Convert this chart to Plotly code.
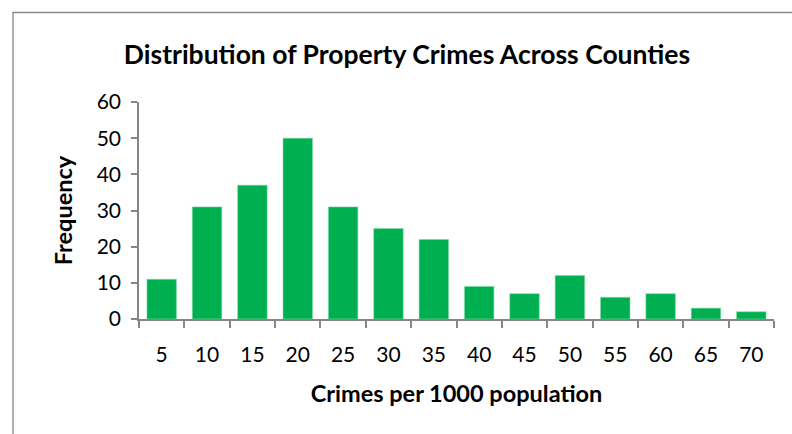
import plotly.graph_objects as go

# Histogram bins (crimes per 1000 population) and county counts
bins = ["5", "10", "15", "20", "25", "30", "35", "40", "45", "50", "55", "60", "65", "70"]
counts = [11, 31, 37, 50, 31, 25, 22, 9, 7, 12, 6, 7, 3, 2]
y_ticks = [0, 10, 20, 30, 40, 50, 60]

W, H = 792, 434
L, R, T, B = 139, 18, 102, 115
FONT = "Lato"
AXIS_GRAY = "#868686"

fig = go.Figure(
    go.Bar(
        x=bins,
        y=counts,
        marker=dict(color="#00B050", line=dict(color="#7fd8a7", width=0.6)),
        hoverinfo="x+y",
    )
)

pw = W - L - R
ph = H - T - B

# Chart-area border (top and left edges visible)
fig.add_shape(
    type="path",
    xref="paper", yref="paper",
    path=(f"M {(13 - L) / pw} {-(H + 5 - T - ph) / ph} "
          f"L {(13 - L) / pw} {(H - B - 12.5) / ph} "
          f"L {(W + 5 - L) / pw} {(H - B - 12.5) / ph}"),
    line=dict(color=AXIS_GRAY, width=1.3),
    layer="above",
)

fig.update_layout(
    width=W, height=H,
    margin=dict(l=L, r=R, t=T, b=B, autoexpand=False),
    paper_bgcolor="white",
    plot_bgcolor="white",
    bargap=0.35,
    showlegend=False,
    title=dict(
        text="<b>Distribution of Property Crimes Across Counties</b>",
        x=407 / W, xref="container", xanchor="center",
        y=1 - 55 / H, yref="container", yanchor="middle",
        font=dict(family=FONT, size=26.5, color="black"),
    ),
    font=dict(family=FONT, color="black"),
)

fig.update_xaxes(
    type="category",
    showline=True, linecolor=AXIS_GRAY, linewidth=1.5,
    ticks="outside", tickson="boundaries", ticklen=7, tickcolor=AXIS_GRAY, tickwidth=1.5,
    tickfont=dict(family=FONT, size=21, color="black"),
    ticklabelstandoff=16,
    showgrid=False, zeroline=False,
    title=dict(text="<b>Crimes per 1000 population</b>",
               font=dict(family=FONT, size=23.5, color="black"), standoff=21),
)

fig.update_yaxes(
    range=[0, 60],
    tickvals=y_ticks,
    showline=True, linecolor=AXIS_GRAY, linewidth=1.5,
    ticks="outside", ticklen=6, tickcolor=AXIS_GRAY, tickwidth=1.5,
    tickfont=dict(family=FONT, size=21, color="black"),
    ticklabelstandoff=6,
    showgrid=False, zeroline=False,
    title=dict(text="<b>Frequency</b>",
               font=dict(family=FONT, size=23.5, color="black"), standoff=17),
)

fig.write_html("out.html")
